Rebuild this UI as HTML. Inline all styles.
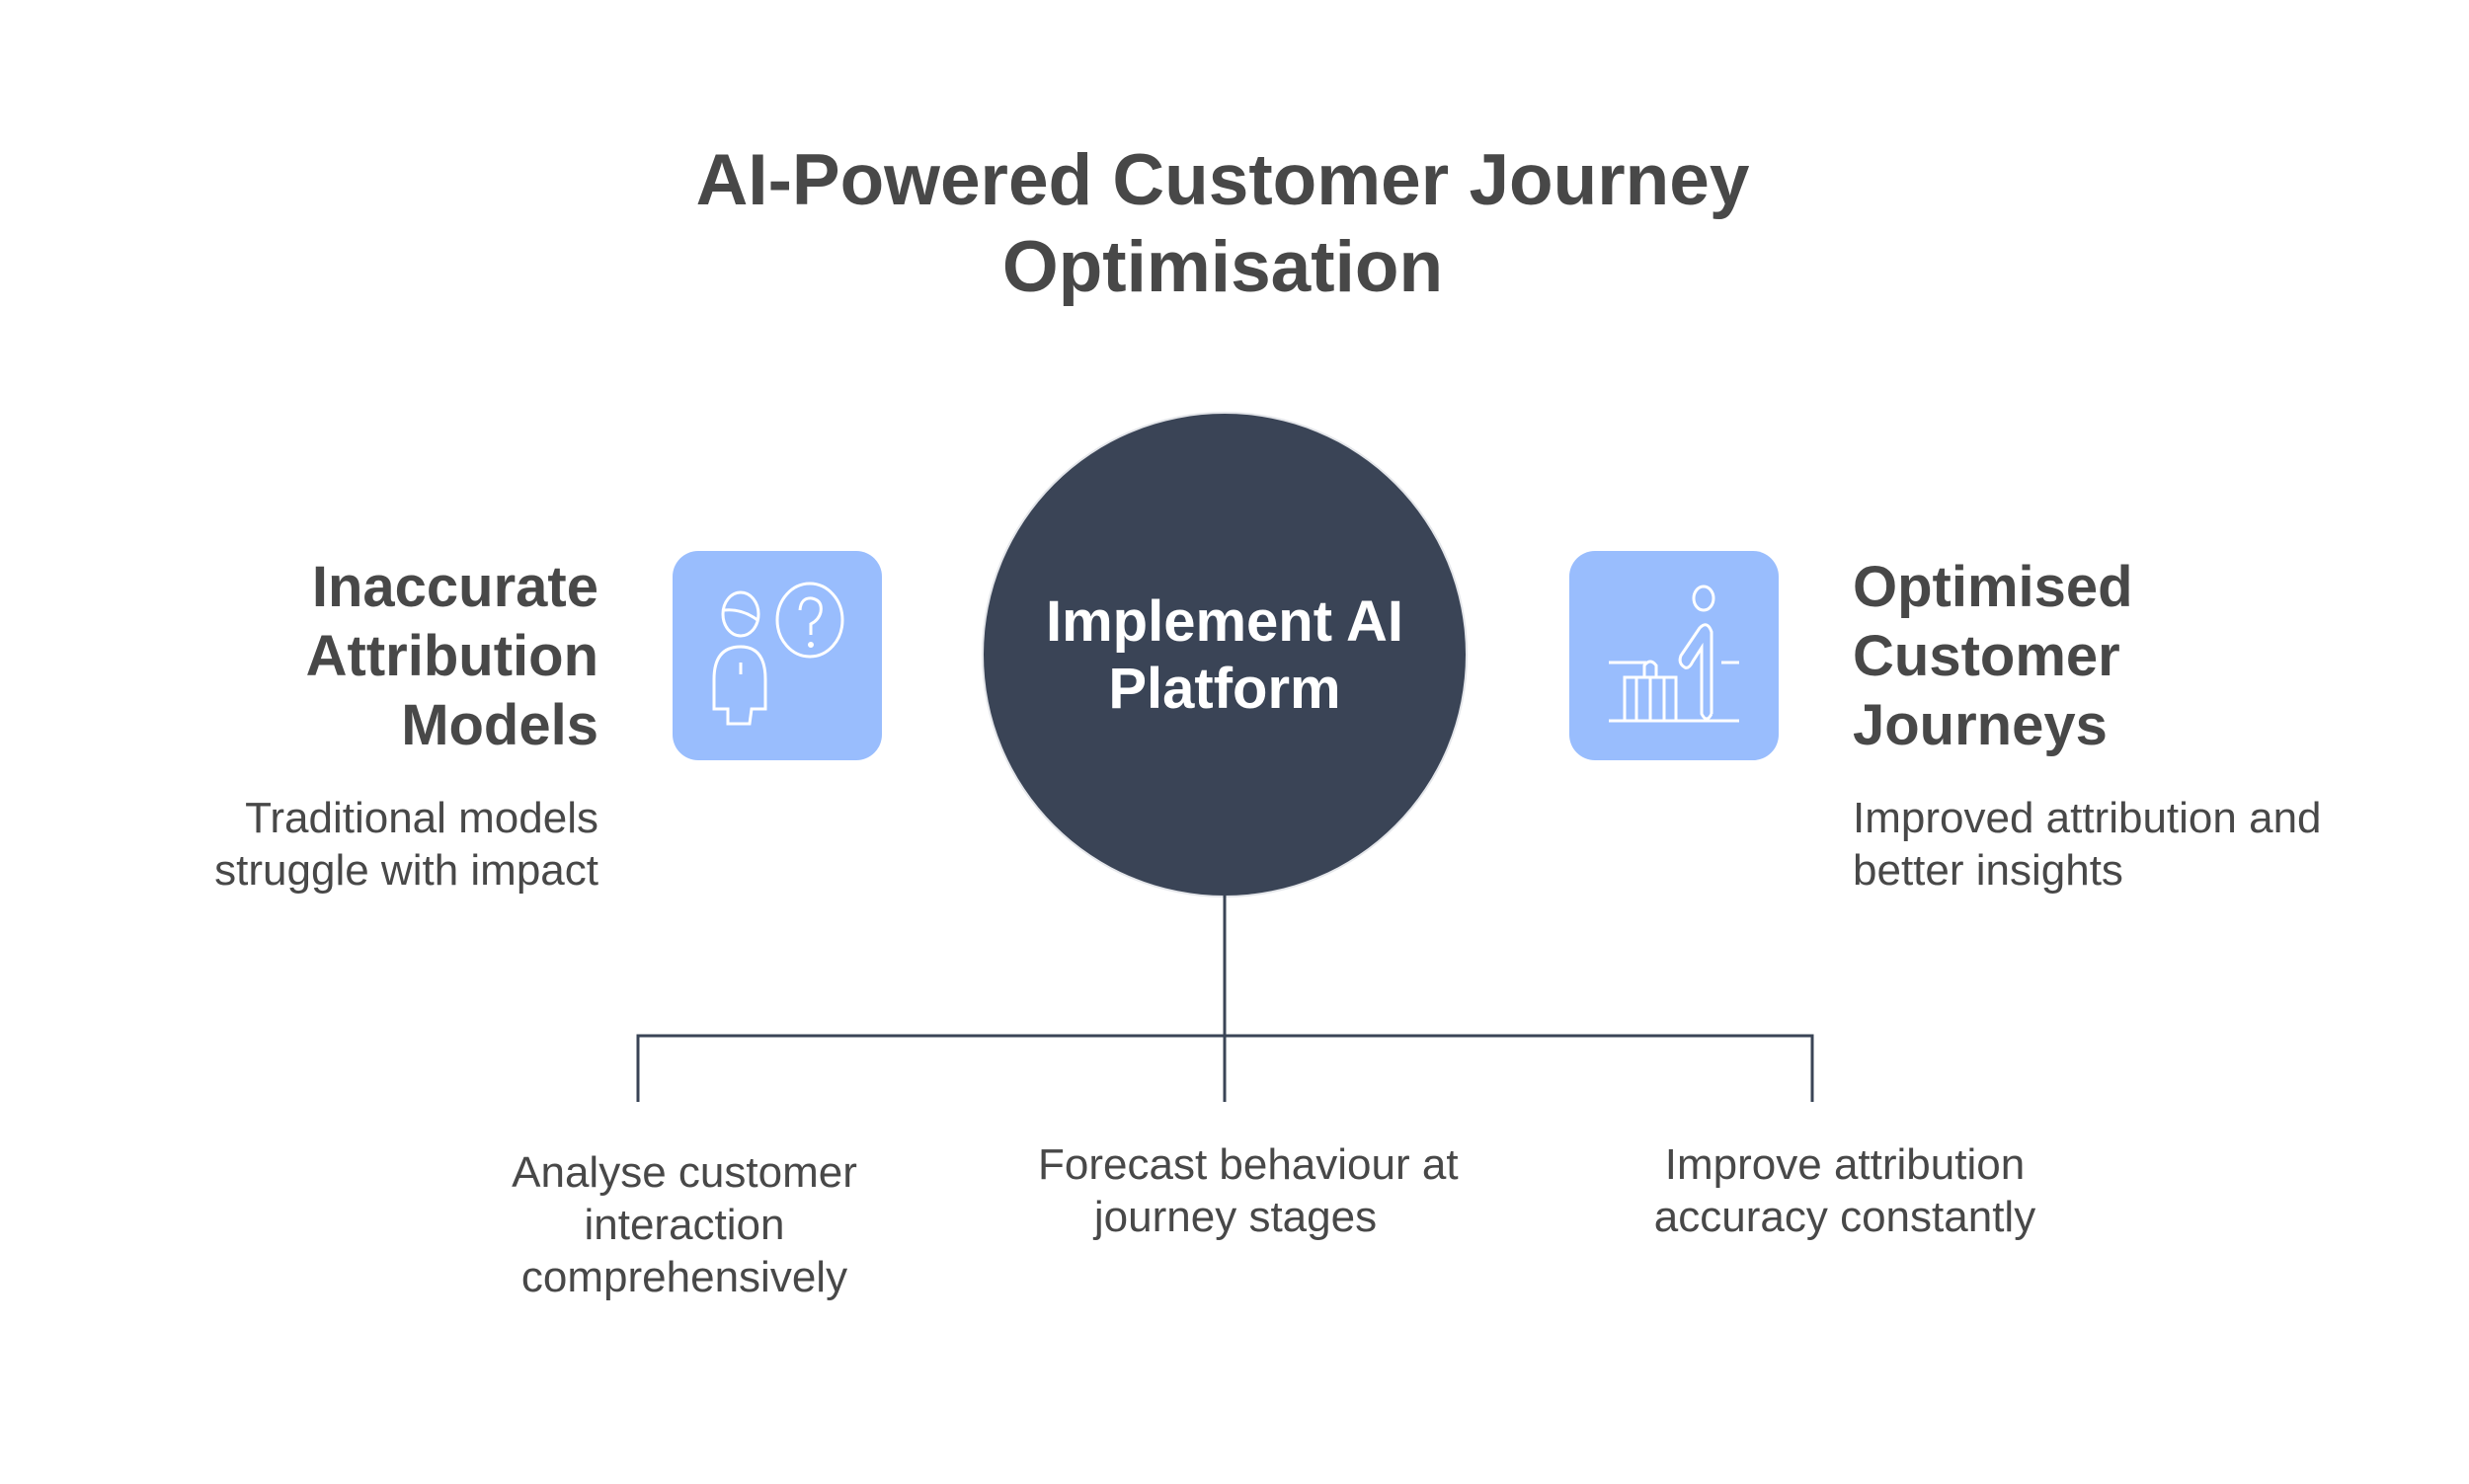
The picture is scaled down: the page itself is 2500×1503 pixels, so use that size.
<!DOCTYPE html>
<html><head><meta charset="utf-8"><style>
body{margin:0;width:2500px;height:1503px;background:#fff;position:relative;overflow:hidden;font-family:"Liberation Sans",Arial,sans-serif;color:#484848}
.a{position:absolute;white-space:nowrap}
.t{left:0;width:2476px;text-align:center;font-weight:bold;font-size:73px;line-height:88px;top:139px}
.h{font-weight:bold;font-size:58px;line-height:70px}
.d{font-size:44px;line-height:53px}
.box{position:absolute;width:212px;height:212px;border-radius:26px;background:#99bdfd;top:558px}
</style></head><body>
<div class="a t">AI-Powered Customer Journey<br>Optimisation</div>
<div style="position:absolute;left:996px;top:419px;width:488px;height:488px;border-radius:50%;background:#3a4456;box-shadow:0 0 0 2px #e4e6ea"></div>
<div class="a h" style="left:996px;width:488px;text-align:center;top:596px;line-height:68px;font-size:58px;color:#fff">Implement AI<br>Platform</div>
<div class="box" style="left:681px">
<svg width="212" height="212" viewBox="0 0 212 212" fill="none" stroke="#fff" stroke-width="3">
<ellipse cx="69" cy="64" rx="18" ry="22"/><path d="M52 60 Q70 58 86 70"/>
<ellipse cx="139" cy="70" rx="33" ry="37"/><path d="M129 60 Q130 47 141 48 Q152 50 150 62 Q148 70 140 74 L140 85"/><circle cx="140" cy="95" r="1.5"/>
<path d="M69 97 Q42 97 42 130 L42 160 L56 160 L56 175 L78 175 L80 160 L94 160 L94 130 Q94 97 69 97Z"/><path d="M69 113 L69 125"/>
</svg></div>
<div class="box" style="left:1589px">
<svg width="212" height="212" viewBox="0 0 212 212" fill="none" stroke="#fff" stroke-width="3">
<ellipse cx="136" cy="48" rx="10" ry="12"/>
<path d="M40 113 L78 113 M154 113 L172 113"/>
<path d="M144 165 L144 82 Q140 70 132 78 L113 106 Q110 114 117 118 Q121 120 125 112 L134 98 L134 165 Q139 175 144 165"/>
<path d="M56 172 L56 128 L108 128 L108 172 M68 128 L68 172 M82 128 L82 172 M96 128 L96 172 M76 128 L76 116 Q82 108 88 116 L88 128"/>
<path d="M40 172 L172 172"/>
</svg></div>
<div class="a h" style="right:1894px;text-align:right;top:560px">Inaccurate<br>Attribution<br>Models</div>
<div class="a d" style="right:1894px;text-align:right;top:802px">Traditional models<br>struggle with impact</div>
<div class="a h" style="left:1876px;top:560px">Optimised<br>Customer<br>Journeys</div>
<div class="a d" style="left:1876px;top:802px">Improved attribution and<br>better insights</div>
<svg class="a" style="left:0;top:0" width="2500" height="1503"><g stroke="#3a4456" stroke-width="3" fill="none">
<path d="M1240 907 L1240 1116 M646 1116 L646 1049 L1835 1049 L1835 1116"/></g></svg>
<div class="a d" style="left:493px;width:400px;text-align:center;top:1161px">Analyse customer<br>interaction<br>comprehensively</div>
<div class="a d" style="left:1051px;width:400px;text-align:center;top:1153px">Forecast behaviour at<br>journey stages</div>
<div class="a d" style="left:1668px;width:400px;text-align:center;top:1153px">Improve attribution<br>accuracy constantly</div>
</body></html>
